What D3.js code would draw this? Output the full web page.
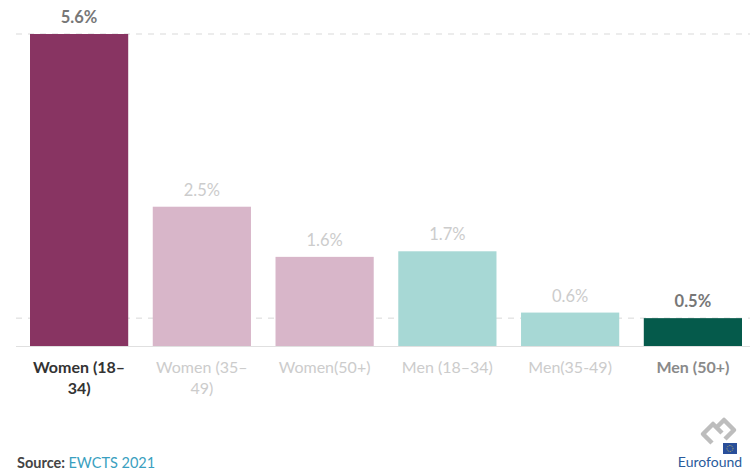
<!DOCTYPE html>
<html><head><meta charset="utf-8">
<script src="https://cdn.jsdelivr.net/npm/d3@7"></script>
<style>body{margin:0;background:#fff;}svg{display:block;font-family:Lato,"Noto Sans",sans-serif;}</style>
</head><body><svg id="c" width="750" height="472"></svg>
<script>
const categories = ["Women (18–34)", "Women (35–49)", "Women(50+)", "Men (18–34)", "Men(35-49)", "Men (50+)"];
const labelLines = [["Women (18–", "34)"], ["Women (35–", "49)"], ["Women(50+)"], ["Men (18–34)"], ["Men(35-49)"], ["Men (50+)"]];
const values = [5.6, 2.5, 1.6, 1.7, 0.6, 0.5];
const valueLabels = ["5.6%", "2.5%", "1.6%", "1.7%", "0.6%", "0.5%"];
const gridValues = [0.5, 5.6];
const barColors = ["#883462", "#d8b6c9", "#d8b6c9", "#a7d8d5", "#a7d8d5", "#055a4b"];
const valueColors = ["#777777", "#cccccc", "#cccccc", "#cccccc", "#cccccc", "#777777"];
const valueWeights = ["bold", "normal", "normal", "normal", "normal", "bold"];
const catColors = ["#333333", "#cccccc", "#cccccc", "#cccccc", "#cccccc", "#8a8a8a"];

const svg = d3.select("#c");
const x = d3.scaleBand().domain(categories).range([30, 742]).paddingInner(0.2).paddingOuter(0);
const y = d3.scaleLinear().domain([0, 5.6]).range([346, 34]);

// gridlines
svg.append("g").selectAll("line").data(gridValues).join("line")
  .attr("x1", 16).attr("x2", 750)
  .attr("y1", d => y(d)).attr("y2", d => y(d))
  .attr("stroke", "#d9d9d9").attr("stroke-width", 1).attr("stroke-dasharray", "6,6");

// bars
svg.append("g").selectAll("rect").data(values).join("rect")
  .attr("x", (d, i) => x(categories[i]))
  .attr("width", x.bandwidth())
  .attr("y", d => y(d))
  .attr("height", d => y(0) - y(d))
  .attr("fill", (d, i) => barColors[i]);

// baseline
svg.append("line").attr("x1", 16).attr("x2", 750).attr("y1", y(0) + 0.5).attr("y2", y(0) + 0.5)
  .attr("stroke", "#e0e0e0").attr("stroke-width", 1);

// value labels
svg.append("g").selectAll("text").data(values).join("text")
  .attr("x", (d, i) => x(categories[i]) + x.bandwidth() / 2)
  .attr("y", d => y(d) - 11)
  .attr("text-anchor", "middle")
  .attr("font-size", 16.5)
  .attr("font-weight", (d, i) => valueWeights[i])
  .attr("fill", (d, i) => valueColors[i])
  .text((d, i) => valueLabels[i]);

// category labels
const cg = svg.append("g").selectAll("text").data(categories).join("text")
  .attr("x", d => x(d) + x.bandwidth() / 2)
  .attr("y", 373)
  .attr("text-anchor", "middle")
  .attr("font-size", 16)
  .attr("font-weight", (d, i) => (i === 0 || i === 5) ? "bold" : "normal")
  .attr("fill", (d, i) => catColors[i]);
cg.each(function(d, i) {
  const t = d3.select(this);
  labelLines[i].forEach((ln, k) => {
    t.append("tspan").attr("x", x(d) + x.bandwidth() / 2).attr("dy", k === 0 ? 0 : 21).text(ln);
  });
});

// source
const src = svg.append("text").attr("x", 17).attr("y", 468).attr("font-size", 14.5);
src.append("tspan").attr("font-weight", "bold").attr("fill", "#444").text("Source: ");
src.append("tspan").attr("fill", "#3a9fc0").text("EWCTS 2021");

// logo
const lg = svg.append("g");
lg.append("path").attr("d", "M712,443 L703,434 L713,424 L722,433 M716,428 L724,420 L734,430 L725,439")
  .attr("fill", "none").attr("stroke", "#bdbdbd").attr("stroke-width", 4.5).attr("stroke-linejoin", "round");
lg.append("rect").attr("x", 723).attr("y", 443).attr("width", 14).attr("height", 11).attr("fill", "#2a4f9a");
lg.append("circle").attr("cx", 730).attr("cy", 448.5).attr("r", 3).attr("fill", "none")
  .attr("stroke", "#e8d44d").attr("stroke-width", 0.8).attr("stroke-dasharray", "0.8,1");
lg.append("text").attr("x", 710).attr("y", 467).attr("text-anchor", "middle").attr("font-size", 14)
  .attr("fill", "#2a5b9b").text("Eurofound");
</script></body></html>
